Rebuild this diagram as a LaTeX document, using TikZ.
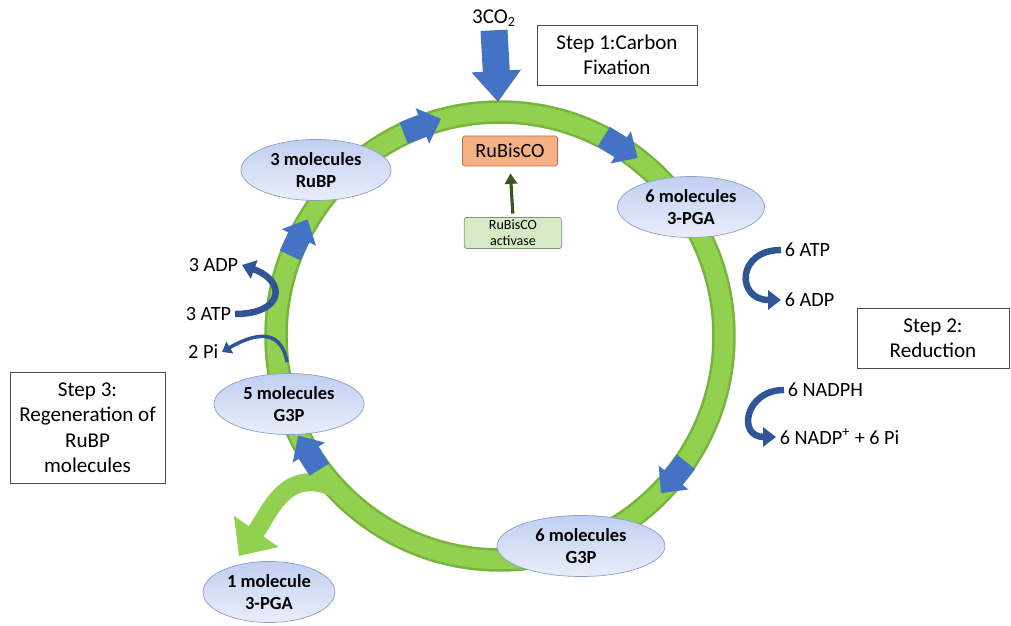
\documentclass[tikz,border=0pt]{standalone}
\usepackage{fontspec}
\setmainfont{Carlito}
\usetikzlibrary{shapes.geometric,arrows.meta}
\definecolor{ringgreen}{RGB}{146,208,80}
\definecolor{ringedge}{RGB}{118,180,62}
\definecolor{arrowblue}{RGB}{68,114,196}
\definecolor{darkblue}{RGB}{47,85,151}
\definecolor{moltop}{RGB}{193,207,242}
\definecolor{molbot}{RGB}{234,238,251}
\definecolor{moledge}{RGB}{140,158,200}
\definecolor{rubfill}{RGB}{244,177,131}
\definecolor{rubedge}{RGB}{180,115,70}
\definecolor{actfill}{RGB}{214,234,198}
\definecolor{actedge}{RGB}{130,150,120}
\definecolor{actarrow}{RGB}{56,87,35}
\begin{document}
\begin{tikzpicture}[
  mol/.style={ellipse,draw=moledge,top color=moltop,bottom color=molbot,
    minimum width=3cm,minimum height=1.22cm,inner sep=0pt,align=center,
    font=\fontsize{10.5}{12.5}\selectfont\bfseries},
  stepbox/.style={draw=black!70,fill=white,align=center,
    font=\fontsize{12}{14.5}\selectfont},
  lbl/.style={inner sep=2pt,font=\fontsize{11.5}{13}\selectfont},
  curl/.style={darkblue,line width=0.13cm,-{Triangle[length=0.26cm,width=0.38cm]}},
]
\useasboundingbox (0,0) rectangle (20.22,12.52);
\coordinate (c) at (10,5.8);
%\draw [help lines] (0,0) grid (20,12);
% the cycle
\draw [ringedge,line width=0.47cm] (c) circle (4.48);
\draw [ringgreen,line width=0.37cm] (c) circle (4.48);
\path (c) ++(223:4.48) coordinate (brstart);
\coordinate (brend) at (4.78,1.4);
\draw [ringgreen,line width=0.36cm,-{Triangle[length=0.6cm,width=1.05cm]}]
  (brstart) to[out=155,in=55,looseness=1.2] (brend);
\foreach \a in {110.8,57.9,-38.7,211.9,154.4}
  \fill [arrowblue,shift={(c)},rotate=\a]
    (4.25,0.36) -- (4.71,0.36) -- (4.71,-0.04) -- (4.86,-0.04) -- (4.48,-0.44)
    -- (4.10,-0.04) -- (4.25,-0.04) -- cycle;

% molecules
\node [mol] (rubp) at (6.32,9.12) {3 molecules\\RuBP};
\node [mol,minimum width=2.94cm] (pgasix) at (13.82,8.38) {6 molecules\\3-PGA};
\node [mol] (gfive) at (5.78,4.44) {5 molecules\\G3P};
\node [mol,minimum width=3.36cm] (gsix) at (11.62,1.6) {6 molecules\\G3P};
\node [mol,minimum width=2.64cm] (pgaone) at (5.38,0.68) {1 molecule\\3-PGA};

% carbon fixation
\node [lbl,font=\fontsize{12}{14}\selectfont] (co2) at (9.88,12.16) {3CO\textsubscript{2}};
\coordinate (co2tip) at (9.96,10.48);
\draw [arrowblue,line width=0.54cm,-{Triangle[length=0.62cm,width=0.95cm]}]
  (co2.south) -- (co2tip);
\node [draw=rubedge,fill=rubfill,rounded corners=1pt,minimum width=1.9cm,
  minimum height=0.6cm,font=\fontsize{11.5}{13}\selectfont] (rub) at (10.2,9.5) {RuBisCO};
\node [draw=actedge,fill=actfill,rounded corners=1pt,minimum width=1.95cm,
  minimum height=0.62cm,inner sep=1pt,align=center,
  font=\fontsize{8}{9}\selectfont] (act) at (10.26,7.86) {RuBisCO\\activase};
\draw [actarrow,line width=1.8pt,-{Triangle[length=6pt,width=7pt]},
  shorten <=2pt,shorten >=4pt] (act.north) -- (rub.south);

% steps
\node [stepbox,minimum width=3.2cm,minimum height=1.2cm] (stepone) at (12.34,11.42)
  {Step 1:Carbon\\Fixation};
\node [stepbox,minimum width=3.04cm,minimum height=1.2cm] (steptwo) at (18.66,5.76)
  {Step 2:\\Reduction};
\node [stepbox,minimum width=3.1cm,minimum height=2.22cm] (stepthree) at (1.75,3.97)
  {Step 3:\\Regeneration of\\RuBP\\molecules};

% reduction
\node [lbl,anchor=west] (atpsix) at (15.62,7.52) {6 ATP};
\node [lbl,anchor=west] (adpsix) at (15.62,6.52) {6 ADP};
\node [lbl,anchor=west] (nadph) at (15.68,4.72) {6 NADPH};
\node [lbl,anchor=west] (nadp) at (15.52,3.78) {6 NADP\textsuperscript{+} + 6 Pi};
\draw [curl] (atpsix.west) to[out=180,in=180,looseness=2.3] (adpsix.west);
\draw [curl] (nadph.west) to[out=180,in=180,looseness=2.1] (nadp.west);

% regeneration
\node [lbl,anchor=east] (adpthree) at (4.84,7.22) {3 ADP};
\node [lbl,anchor=east] (atpthree) at (4.7,6.24) {3 ATP};
\node [lbl,anchor=east] (pitwo) at (4.44,5.48) {2 Pi};
\draw [curl] (atpthree.east) to[out=0,in=-20,looseness=2.5] (adpthree.east);
\coordinate (pistart) at (5.74,5.28);
\draw [curl,line width=0.07cm,-{Triangle[length=0.18cm,width=0.26cm]}]
  (pistart) to[out=100,in=30,looseness=1.4] (pitwo.east);
\end{tikzpicture}
\end{document}
